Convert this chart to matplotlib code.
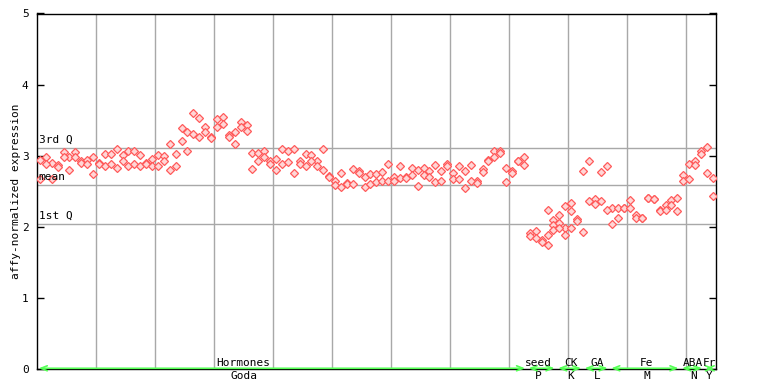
import numpy as np
import matplotlib
matplotlib.use("Agg")
import matplotlib.pyplot as plt

# expression values, two replicates per sample column
rep_a = [2.94, 2.98, 2.90, 2.87, 3.05, 2.98, 3.05, 2.93, 2.94, 2.98,
         2.90, 3.02, 3.02, 3.10, 3.01, 3.06, 3.06, 3.01, 2.90, 2.95,
         3.01, 3.00, 3.17, 3.03, 3.39, 3.33, 3.60, 3.53, 3.41, 3.27,
         3.52, 3.55, 3.29, 3.34, 3.48, 3.43, 3.04, 3.04, 3.06, 2.93,
         2.95, 3.09, 3.07, 3.10, 2.92, 3.03, 3.01, 2.93, 3.09, 2.71,
         2.64, 2.75, 2.61, 2.81, 2.79, 2.70, 2.74, 2.74, 2.77, 2.89,
         2.70, 2.85, 2.70, 2.82, 2.80, 2.82, 2.78, 2.87, 2.78, 2.89,
         2.75, 2.85, 2.78, 2.87, 2.65, 2.81, 2.94, 3.06, 3.06, 2.82,
         2.79, 2.93, 2.98, 1.91, 1.94, 1.81, 2.23, 2.09, 2.17, 2.29,
         2.33, 2.11, 2.79, 2.92, 2.39, 2.77, 2.85, 2.26, 2.27, 2.27,
         2.37, 2.17, 2.13, 2.40, 2.39, 2.23, 2.30, 2.37, 2.41, 2.73,
         2.89, 2.93, 3.07, 3.12, 2.68]
rep_b = [2.67, 2.88, 2.67, 2.84, 2.98, 2.80, 2.98, 2.90, 2.88, 2.74,
         2.88, 2.85, 2.89, 2.83, 2.92, 2.85, 2.89, 2.85, 2.88, 2.85,
         2.85, 2.92, 2.80, 2.86, 3.20, 3.06, 3.30, 3.26, 3.33, 3.25,
         3.40, 3.45, 3.27, 3.17, 3.41, 3.35, 2.81, 2.93, 2.98, 2.89,
         2.80, 2.88, 2.91, 2.75, 2.89, 2.85, 2.92, 2.85, 2.80, 2.70,
         2.59, 2.56, 2.60, 2.60, 2.75, 2.56, 2.60, 2.63, 2.64, 2.64,
         2.64, 2.68, 2.69, 2.73, 2.57, 2.73, 2.70, 2.63, 2.64, 2.85,
         2.67, 2.67, 2.54, 2.65, 2.62, 2.77, 2.93, 2.98, 3.04, 2.63,
         2.76, 2.92, 2.87, 1.87, 1.84, 1.78, 1.88, 2.03, 2.06, 1.99,
         2.22, 2.08, 1.92, 2.36, 2.32, 2.36, 2.24, 2.04, 2.12, 2.26,
         2.26, 2.13, 2.12, 2.40, 2.39, 2.22, 2.23, 2.30, 2.22, 2.64,
         2.67, 2.87, 3.03, 2.75, 2.43]
# a few columns have a third replicate
extra_col = [86, 87, 88, 89, 90]
extra_val = [1.75, 1.96, 1.99, 1.89, 1.99]

# summary lines
q3_val, mean_val, q1_val = 3.11, 2.59, 2.04

# experiment groups along the bottom
group_top = ["Hormones", "seed", "CK", "GA", "Fe", "ABA", "Fr"]
group_bottom = ["Goda", "P", "K", "L", "M", "N", "Y"]
group_edges = [0, 83, 88, 92.5, 97, 109, 113, 115]
label_x = [35, 85, 90.5, 95, 103.3, 111.2, 113.9]

mono = "DejaVu Sans Mono"
red = "#ff5a5a"
green = "#55ff55"
grey = "#a8a8a8"

fig = plt.figure(figsize=(7.68, 3.84), dpi=100)
ax = fig.add_axes([37/768, 15/384, 678.7/768, 355.5/384])

n = len(rep_a)
xs = np.arange(n) + 0.5
ax.set_xlim(0, 115)
ax.set_ylim(0, 5)

# grid: vertical every 10 columns, horizontal only at quartiles/mean
for gx in range(10, 115, 10):
    ax.axvline(gx, color=grey, lw=1, zorder=1)
for gy in (q3_val, mean_val, q1_val):
    ax.axhline(gy, color=grey, lw=1, zorder=1)

pts = dict(marker="D", ms=3.8, mfc="#ffd6d6", mec=red, mew=0.9, ls="none", zorder=3)
ax.plot(xs, rep_a, **pts)
ax.plot(xs, rep_b, **pts)
ax.plot(np.array(extra_col) + 0.5, extra_val, **pts)

# quartile labels
ax.text(0.3, q3_val + 0.04, "3rd Q", fontsize=8, family=mono, va="bottom", ha="left")
ax.text(0.3, mean_val + 0.04, "mean", fontsize=8, family=mono, va="bottom", ha="left")
ax.text(0.3, q1_val + 0.04, "1st Q", fontsize=8, family=mono, va="bottom", ha="left")

# group arrows and labels
for k in range(len(group_top)):
    x0, x1 = group_edges[k], group_edges[k + 1]
    ax.annotate("", xy=(x1 - 0.3, 0.01), xytext=(x0 + 0.3, 0.01),
                arrowprops=dict(arrowstyle="<->,head_length=0.45,head_width=0.18",
                                color=green, lw=1.2, shrinkA=0, shrinkB=0),
                annotation_clip=False, zorder=5)
    ax.text(label_x[k], 0.02, group_top[k], fontsize=8, family=mono,
            ha="center", va="bottom", zorder=6)
    ax.text(label_x[k], -0.03, group_bottom[k], fontsize=8, family=mono,
            ha="center", va="top", clip_on=False)

ax.set_yticks([0, 1, 2, 3, 4, 5])
ax.set_yticklabels(["0", "1", "2", "3", "4", "5"], family=mono, fontsize=8)
ax.set_xticks([])
ax.tick_params(axis="y", direction="in", length=5, width=1, right=True, pad=6)
ax.set_ylabel("affy-normalized expression", family=mono, fontsize=8, labelpad=1)
for s in ax.spines.values():
    s.set_color("black")
    s.set_linewidth(1)

fig.savefig("out.png", dpi=100)
